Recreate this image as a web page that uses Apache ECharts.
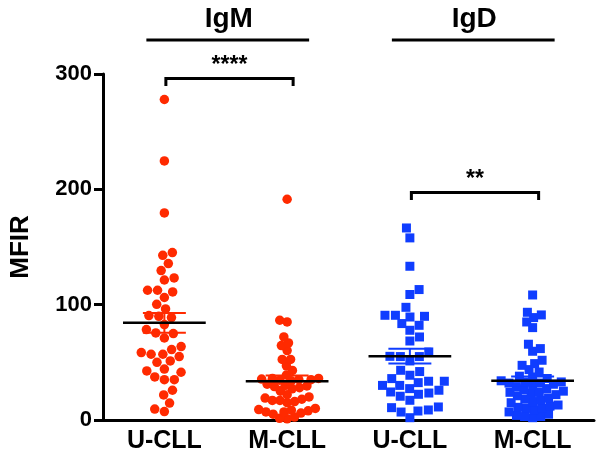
<!DOCTYPE html>
<html>
<head>
<meta charset="utf-8">
<script src="https://cdn.jsdelivr.net/npm/echarts@6/dist/echarts.min.js"></script>
<style>
html,body{margin:0;padding:0;background:#fff;}
#chart{width:602px;height:459px;}
</style>
</head>
<body>
<div id="chart"></div>
<script>
// ---- data ----
const categories = ['U-CLL', 'M-CLL', 'U-CLL', 'M-CLL'];
const groupTitles = ['IgM', 'IgD'];
const yTicks = [0, 100, 200, 300];
const significance = ['****', '**'];

const igmUCLL = [277.9, 224.6, 179.5, 145.2, 142.8, 135.6, 129.6, 121.4, 123.2, 112.5, 111, 112.5, 106.2,
  100.3, 96.3, 89.9, 88.8, 90.5, 82.7, 78.4, 74.9, 75.5, 71.1, 63.7, 58.5, 57, 61.1, 57, 55, 51.2, 50,
  42.5, 44.2, 41.4, 37.3, 35, 35, 25.8, 21.7, 14.7, 7.3, 9.5];
const igmMCLL = [191.4, 86.5, 85, 72, 66.8, 64.5, 60.2, 52.5, 52.5, 47, 43, 39,
  36, 36, 35.5, 35, 35, 34.5, 34, 31, 30, 29.5, 29, 28, 27, 25,
  22, 20, 19, 18, 17, 17, 16, 15, 10, 9, 8.5, 8, 7, 7, 6, 5, 2.5, 1.5, 1];
const igdUCLL = [166.5, 157.9, 133.3, 113.1, 108.8, 97.7, 90.8, 89.9, 89.3, 90.8, 83.6, 82.1, 77.8,
  68.5, 72, 59, 55.2, 55, 51.2, 55, 43.1, 38.8, 42, 33.6, 32.4, 33.6, 35.9,
  30, 25.8, 23.4, 20.6, 17.1, 22.3, 24.3, 27.2, 30, 10.7, 7.8, 2, 6.9, 8.7, 11.3];
const igdMCLL = [108.4, 93.4, 91.1, 88.8, 85, 80.1, 65.7, 61.9, 59.6, 51.8, 48.9, 47.4, 43.7, 41.6, 37.3,
  38, 36, 34, 33, 33, 32, 32, 31, 30, 29, 27, 26, 25, 24, 24, 23, 22, 21,
  19, 18, 17, 16, 15, 13, 12, 11, 10, 10, 9, 7, 5, 4, 3, 3, 2];

const groups = [igmUCLL, igmMCLL, igdUCLL, igdMCLL];
const RED = '#FF2A00', BLUE = '#0F3DFF';
const groupColors = [RED, RED, BLUE, BLUE];
const groupSymbols = ['circle', 'circle', 'rect', 'rect'];
const groupSpacing = [10, 7.6, 10.5, 8.2];   // packing distance of the swarm, px

// ---- layout ----
const W = 602, H = 459;
const grid = {left: 101, right: 8, top: 74, bottom: 39};
const gridW = W - grid.left - grid.right, gridH = H - grid.top - grid.bottom;
const pxPerX = gridW / 4;   // value-x axis spans -0.5..3.5
const pxPerY = gridH / 300;
const FONT = 'Liberation Sans, Arial, Helvetica, sans-serif';

function beeswarm(values, gi, d) {
  const placed = [];
  const sorted = values.slice().sort((a, b) => a - b);
  const out = [];
  sorted.forEach(v => {
    const py = v * pxPerY;
    const near = placed.filter(p => Math.abs(p.py - py) < d);
    const cands = [0];
    near.forEach(p => {
      const dx = Math.sqrt(d * d - (p.py - py) * (p.py - py));
      cands.push(p.px + dx, p.px - dx);
    });
    const ok = cands.filter(c => near.every(p => {
      const dx = Math.sqrt(d * d - (p.py - py) * (p.py - py));
      return Math.abs(c - p.px) >= dx - 1e-6;
    }));
    ok.sort((a, b) => Math.abs(a) - Math.abs(b) || (placed.length % 2 ? a - b : b - a));
    const px = ok[0];
    placed.push({px, py});
    out.push([gi + px / pxPerX, v]);
  });
  return out;
}

function stats(arr) {
  const n = arr.length;
  const m = arr.reduce((s, v) => s + v, 0) / n;
  const sd = Math.sqrt(arr.reduce((s, v) => s + (v - m) * (v - m), 0) / (n - 1));
  return [m, sd / Math.sqrt(n)];
}

const series = [];
groups.forEach((g, gi) => {
  series.push({
    type: 'scatter',
    xAxisIndex: 1,
    symbol: groupSymbols[gi],
    symbolSize: groupSymbols[gi] === 'circle' ? 9.5 : 9,
    itemStyle: {color: groupColors[gi], opacity: 1},
    data: beeswarm(g, gi, groupSpacing[gi]),
    silent: true,
    z: 2
  });
});

const summary = groups.map((g, gi) => {
  const [m, se] = stats(g);
  return [gi, m, se];
});

series.push({
  type: 'custom',
  xAxisIndex: 1,
  z: 5,
  silent: true,
  data: summary,
  renderItem: function (params, api) {
    const gi = api.value(0), m = api.value(1), se = api.value(2);
    const c = api.coord([gi, m]);
    const top = api.coord([gi, m + se]);
    const bot = api.coord([gi, m - se]);
    const unit = api.size([1, 0])[0];
    const hm = 0.337 * unit, hs = 0.175 * unit;
    const col = groupColors[gi];
    return {
      type: 'group',
      children: [
        {type: 'line', shape: {x1: c[0], y1: top[1], x2: c[0], y2: bot[1]}, style: {stroke: col, lineWidth: 2}},
        {type: 'line', shape: {x1: c[0] - hs, y1: top[1], x2: c[0] + hs, y2: top[1]}, style: {stroke: col, lineWidth: 2}},
        {type: 'line', shape: {x1: c[0] - hs, y1: bot[1], x2: c[0] + hs, y2: bot[1]}, style: {stroke: col, lineWidth: 2}},
        {type: 'line', shape: {x1: c[0] - hm, y1: c[1], x2: c[0] + hm, y2: c[1]}, style: {stroke: '#000', lineWidth: 2.5}}
      ]
    };
  }
});

const chart = echarts.init(document.getElementById('chart'), null, {renderer: 'canvas'});
chart.setOption({
  animation: false,
  backgroundColor: '#fff',
  grid: grid,
  xAxis: [{
    type: 'category',
    data: categories,
    boundaryGap: true,
    axisLine: {onZero: false, lineStyle: {color: '#000', width: 3}},
    axisTick: {alignWithLabel: true, length: 8, lineStyle: {color: '#000', width: 3}},
    axisLabel: {color: '#000', fontSize: 25, fontWeight: 'bold', fontFamily: FONT, margin: 9},
    splitLine: {show: false}
  }, {
    type: 'value',
    min: -0.5, max: 3.5,
    show: false
  }],
  yAxis: {
    type: 'value',
    min: yTicks[0], max: yTicks[yTicks.length - 1], interval: 100,
    name: 'MFIR',
    nameLocation: 'middle',
    nameRotate: 90,
    nameGap: 69,
    nameTextStyle: {color: '#000', fontSize: 26, fontWeight: 'bold', fontFamily: FONT},
    axisLine: {show: true, onZero: false, lineStyle: {color: '#000', width: 3}},
    axisTick: {show: true, length: 9, lineStyle: {color: '#000', width: 3}},
    axisLabel: {color: '#000', fontSize: 22, fontWeight: 'bold', fontFamily: FONT, margin: 11},
    splitLine: {show: false}
  },
  series: series
});

// ---- annotations (headers and significance brackets) ----
function px(gi, v) { return chart.convertToPixel({xAxisIndex: 1, yAxisIndex: 0}, [gi, v]); }
const graphics = [];
[[0, 1], [2, 3]].forEach((pair, k) => {
  const a = px(pair[0], 0), b = px(pair[1], 0);
  const cx = (a[0] + b[0]) / 2 + 3;
  graphics.push({type: 'text', style: {text: groupTitles[k], x: cx, y: 19, textAlign: 'center', textVerticalAlign: 'middle',
    font: 'bold 28px ' + FONT, fill: '#000'}});
  graphics.push({type: 'line', shape: {x1: a[0] - 18, y1: 40, x2: b[0] + 22, y2: 40}, style: {stroke: '#000', lineWidth: 3}});
});
const brackets = [[0, 1, 296], [2, 3, 197.3]];
brackets.forEach((br, k) => {
  const a = px(br[0], br[2]), b = px(br[1], br[2]);
  const x1 = a[0] + 1.5, x2 = b[0] + 6, y = a[1];
  graphics.push({type: 'polyline', shape: {points: [[x1, y + 7.5], [x1, y], [x2, y], [x2, y + 7.5]]},
    style: {stroke: '#000', lineWidth: 3, fill: null}});
  graphics.push({type: 'text', style: {text: significance[k], x: (x1 + x2) / 2, y: y - 1, textAlign: 'center', textVerticalAlign: 'bottom',
    font: 'bold 23px ' + FONT, fill: '#000'}});
});
chart.setOption({graphic: graphics});
</script>
</body>
</html>
